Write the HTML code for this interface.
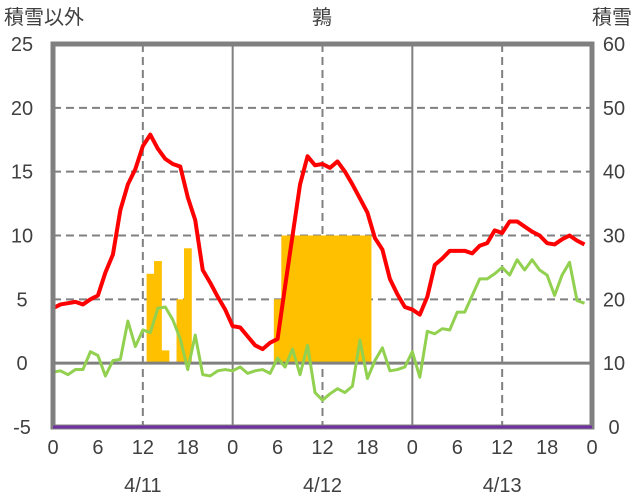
<!DOCTYPE html>
<html><head><meta charset="utf-8"><style>
body{margin:0;background:#fff;}
svg{display:block;font-family:"Liberation Sans","Noto Sans CJK JP",sans-serif;}
</style></head><body>
<svg id="chart" width="636" height="501" viewBox="0 0 636 501">
<g id="grid"></g>
<g id="bars"></g>
<g id="lines"></g>
<g id="frame"></g>
<g id="top"></g>
<g id="labels"></g>
</svg>
<script>
const leftTicks=[-5,0,5,10,15,20,25];
const rightTicks=[0,10,20,30,40,50,60];
const hourTicks=[0,6,12,18];
const dates=["4/11","4/12","4/13"];
const redSeries=[4.3,4.6,4.7,4.8,4.6,5.0,5.3,7.1,8.5,12,14,15.2,17,17.9,16.8,16,15.6,15.4,13,11.2,7.3,6.3,5.2,4.2,2.9,2.8,2.1,1.4,1.1,1.6,1.9,6,10,14,16.2,15.5,15.6,15.3,15.8,15,14,12.9,11.8,9.8,8.9,6.6,5.4,4.4,4.2,3.8,5.2,7.7,8.2,8.8,8.8,8.8,8.6,9.2,9.4,10.4,10.2,11.1,11.1,10.7,10.3,10.0,9.4,9.3,9.7,10.0,9.6,9.3];
const greenSeries=[-0.7,-0.6,-0.9,-0.5,-0.5,0.9,0.6,-1.0,0.2,0.3,3.3,1.3,2.6,2.4,4.3,4.4,3.4,1.9,-0.5,2.2,-0.9,-1.0,-0.6,-0.5,-0.6,-0.3,-0.8,-0.6,-0.5,-0.8,0.4,-0.3,1.1,-0.9,1.4,-2.3,-2.9,-2.4,-2.0,-2.3,-1.8,1.8,-1.2,0.2,1.2,-0.6,-0.5,-0.3,0.9,-1.1,2.5,2.3,2.7,2.6,4.0,4.0,5.3,6.6,6.6,7.0,7.5,6.9,8.1,7.3,8.1,7.3,6.9,5.3,6.9,7.9,4.9,4.7];
const snowHours=[13,14,15,17,18,30,31,32,33,34,35,36,37,38,39,40,41,42];
const snowValues=[7,8,1,5,9,5,10,10,10,10,10,10,10,10,10,10,10,10];
const purpleValue=[-5];

const X0=53,X1=592,Y0=427,Y1=44;
const xs=h=>X0+(X1-X0)*h/72;
const yL=v=>Y0-(Y0-Y1)*(v+5)/30;
const yR=v=>Y0-(Y0-Y1)*v/60;
const NS='http://www.w3.org/2000/svg';
function mk(tag,parent,attrs){const e=document.createElementNS(NS,tag);for(const k in attrs)e.setAttribute(k,attrs[k]);document.getElementById(parent).appendChild(e);return e;}

leftTicks.forEach(v=>{
  if(v===0||v===-5||v===25)return;
  const g=mk('line','grid',{x1:X0,x2:X1,y1:yL(v),y2:yL(v),stroke:'#808080','stroke-width':2,'stroke-dasharray':'8,5'});
  
  
});
for(let d=0;d<3;d++){
  const g=mk('line','grid',{x1:xs(d*24+12),x2:xs(d*24+12),y1:Y1,y2:Y0,stroke:'#808080','stroke-width':2,'stroke-dasharray':'8,5'});
  
  
  if(d>0){
    const s=mk('line','grid',{x1:xs(d*24),x2:xs(d*24),y1:Y1,y2:Y0,stroke:'#808080','stroke-width':2});
    
    
  }
}
snowHours.forEach((h,i)=>{
  const b=mk('rect','bars',{x:xs(h-0.5),y:yL(snowValues[i]),width:xs(1)-xs(0)+0.3,height:yL(0)-yL(snowValues[i]),fill:'#FFC000'});
  
  
});
const z=mk('line','lines',{x1:X0,x2:X1,y1:yL(0),y2:yL(0),stroke:'#808080','stroke-width':3});


const gp=mk('polyline','lines',{points:greenSeries.map((v,i)=>xs(i)+','+yL(v)).join(' '),fill:'none',stroke:'#92D050','stroke-width':3,'stroke-linejoin':'round'});


const rp=mk('polyline','lines',{points:redSeries.map((v,i)=>xs(i)+','+yL(v)).join(' '),fill:'none',stroke:'#FF0000','stroke-width':4,'stroke-linejoin':'round'});


const fr=mk('rect','frame',{x:X0,y:Y1,width:X1-X0,height:Y0-Y1,fill:'none',stroke:'#808080','stroke-width':5});


const pl=mk('line','top',{x1:X0,x2:X1,y1:yL(purpleValue[0]),y2:yL(purpleValue[0]),stroke:'#7030A0','stroke-width':3});


leftTicks.forEach(v=>{
  const t=mk('text','labels',{x:22,y:yL(v)+7,'font-size':20,'text-anchor':'middle',fill:'#404040'});t.textContent=v;
  
  
});
rightTicks.forEach(v=>{
  const t=mk('text','labels',{x:614,y:yR(v)+7,'font-size':20,'text-anchor':'middle',fill:'#404040'});t.textContent=v;
  
  
});
for(let d=0;d<=3;d++){
  hourTicks.forEach(h=>{
    if(d===3&&h>0)return;
    const t=mk('text','labels',{x:xs(d*24+h),y:454,'font-size':20,'text-anchor':'middle',fill:'#404040'});t.textContent=h;
    
    
  });
}
dates.forEach((s,d)=>{
  const t=mk('text','labels',{x:xs(d*24+12),y:492,'font-size':20,'text-anchor':'middle',fill:'#404040'});t.textContent=s;
  
  
});
const tl=mk('text','labels',{x:4,y:24,'font-size':20,fill:'#404040'});tl.textContent='積雪以外';


const tc=mk('text','labels',{x:322,y:24,'font-size':20,'text-anchor':'middle',fill:'#404040'});tc.textContent='鶉';


const tr=mk('text','labels',{x:632,y:24,'font-size':20,'text-anchor':'end',fill:'#404040'});tr.textContent='積雪';


</script>
</body></html>
